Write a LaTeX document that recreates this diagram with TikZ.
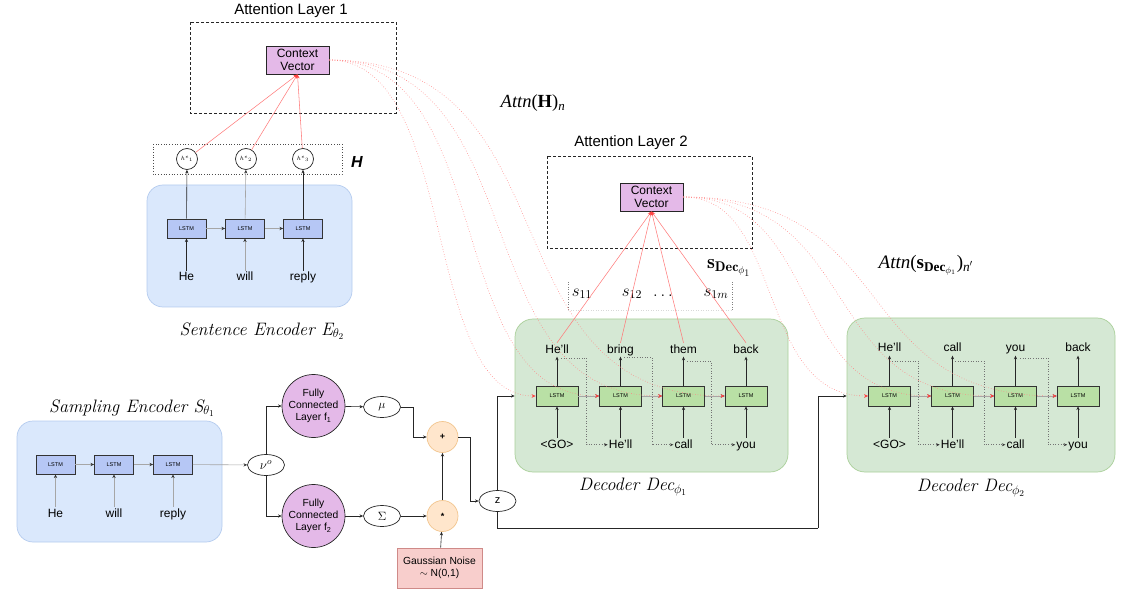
\RequirePackage{fix-cm}
\documentclass[tikz,border=0pt]{standalone}
\usepackage{fontspec}
\setsansfont{Liberation Sans}
\newfontfamily\timesf{Liberation Serif}
\usetikzlibrary{arrows.meta,calc,shapes.geometric}
\definecolor{bluebg}{HTML}{DAE8FC}
\definecolor{blueln}{HTML}{B4CBEE}
\definecolor{lstmb}{HTML}{B6C7F5}
\definecolor{greenbg}{HTML}{D5E8D4}
\definecolor{greenln}{HTML}{A9CF99}
\definecolor{lstmg}{HTML}{B9E0A5}
\definecolor{purp}{HTML}{E4B9E8}
\definecolor{orbg}{HTML}{FFE6CC}
\definecolor{orln}{HTML}{F2C58E}
\definecolor{gnbg}{HTML}{F8CECC}
\definecolor{gnln}{HTML}{CF8A88}
\definecolor{redl}{HTML}{FF4444}
\tikzset{
  blk/.style={draw=black!85,line width=0.6pt,-{Stealth[length=3.6pt,width=3.2pt]}},
  gry/.style={draw=black!35,line width=0.6pt,-{Stealth[length=3.6pt,width=3.2pt,black!80]}},
  plainln/.style={draw=black!85,line width=0.6pt},
  redln/.style={draw=redl!70,line width=0.55pt,-{Stealth[length=4pt,width=3.6pt,redl]}},
  redcv/.style={draw=redl!65,line width=0.6pt,dotted,-{Stealth[length=4pt,width=3.6pt,redl]}},
  fbk/.style={draw=black!55,line width=0.6pt,dotted,-{Stealth[length=3.4pt,width=3pt,black!80]}},
  bluebox/.style={draw=blueln,fill=bluebg,line width=0.7pt,rounded corners=16pt},
  greenbox/.style={draw=greenln,fill=greenbg,line width=0.7pt,rounded corners=18pt},
  lstmB/.style={draw=black!80,line width=0.8pt,fill=lstmb,minimum width=39pt,minimum height=19pt,inner sep=0pt,font=\sffamily\fontsize{5.5}{6}\selectfont},
  lstmG/.style={draw=black!80,line width=0.8pt,fill=lstmg,minimum width=42pt,minimum height=20pt,inner sep=0pt,font=\sffamily\fontsize{5.5}{6}\selectfont},
  word/.style={anchor=base,inner sep=1pt,text height=9pt,text depth=2.5pt,font=\sffamily\fontsize{12}{14}\selectfont},
  ttl/.style={inner sep=0pt,font=\sffamily\fontsize{15}{18}\selectfont},
  ctxbox/.style={draw=black!85,line width=0.9pt,fill=purp,minimum width=63pt,minimum height=28pt,inner sep=0pt,align=center,font=\sffamily\fontsize{12}{13.5}\selectfont},
  hcirc/.style={circle,draw=black!85,line width=0.7pt,fill=white,minimum size=21pt,inner sep=0pt,font=\fontsize{6}{7}\selectfont},
  fccirc/.style={circle,draw=black!85,line width=0.7pt,fill=purp,minimum size=63pt,inner sep=0pt,align=center,font=\sffamily\fontsize{10.3}{12.2}\selectfont},
  ovl/.style={ellipse,draw=black!85,line width=0.7pt,fill=white,minimum width=37pt,minimum height=21pt,inner sep=0pt},
  opcirc/.style={circle,draw=orln,fill=orbg,line width=0.7pt,minimum size=31pt,inner sep=0pt,font=\sffamily\bfseries\fontsize{9}{10}\selectfont},
  capt/.style={inner sep=0pt,font=\fontsize{18}{20}\selectfont\itshape},
  framed/.style={draw=black!85,line width=0.75pt,dash pattern=on 3pt off 2pt},
  mathlab/.style={inner sep=0pt,font=\fontsize{17}{18}\selectfont},
}
\begin{document}
\begin{tikzpicture}[x=1pt,y=-1pt]
\useasboundingbox (0,0) rectangle (1129,593);

% ---------- background boxes ----------
\node[bluebox,minimum width=205pt,minimum height=122pt] (sebox) at (249.5,246) {};
\node[bluebox,minimum width=205pt,minimum height=121pt] (sabox) at (119.5,481.5) {};
\node[greenbox,minimum width=273pt,minimum height=153pt] (dec1) at (651.5,395.5) {};
\node[greenbox,minimum width=268pt,minimum height=154pt] (dec2) at (981,395) {};

% ---------- attention layer 1 ----------
\node[ttl] (at1) at (291,11) {Attention Layer 1};
\draw[framed] (190,22) rectangle (396,113);
\node[ctxbox] (cv1) at (297.5,60) {Context\\Vector};

% ---------- H ----------
\draw[draw=black!70,line width=0.7pt,dotted] (153,144) rectangle (342,174);
\node[hcirc] (h1) at (187,159) {$h^{e}{}_{1}$};
\node[hcirc] (h2) at (246,159) {$h^{e}{}_{2}$};
\node[hcirc] (h3) at (303,159) {$h^{e}{}_{3}$};
\node[inner sep=0pt,font=\sffamily\bfseries\itshape\fontsize{16}{18}\selectfont] (Hlab) at (357,162) {H};

% ---------- sentence encoder ----------
\node[lstmB] (e1) at (186.5,228.5) {LSTM};
\node[lstmB] (e2) at (245,228.5) {LSTM};
\node[lstmB] (e3) at (303,228.5) {LSTM};
\node[word] (w1) at (186.5,281) {He};
\node[word] (w2) at (245,281) {will};
\node[word] (w3) at (303,281) {reply};
\node[capt] (selab) at (262,331) {Sentence Encoder E$_{\theta_2}$};
\draw[blk] (w1) -- (e1);
\draw[gry] (w2) -- (e2);
\draw[blk] (w3) -- (e3);
\draw[gry] (e1) -- (e2);
\draw[gry] (e2) -- (e3);
\draw[blk] (e1) -- (h1);
\draw[gry] (e2) -- (h2);
\draw[blk] (e3) -- (h3);
\draw[redln] (h1) -- (cv1.south);
\draw[redln] (h2) -- (cv1.south);
\draw[redln] (h3) -- (cv1.south);

% ---------- sampling encoder ----------
\node[capt] (salab) at (132,408) {Sampling Encoder S$_{\theta_1}$};
\node[lstmB] (s1) at (55.5,464.5) {LSTM};
\node[lstmB] (s2) at (114,464.5) {LSTM};
\node[lstmB] (s3) at (173,464.5) {LSTM};
\node[word] (v1) at (55.5,517) {He};
\node[word] (v2) at (114,517) {will};
\node[word] (v3) at (173,517) {reply};
\draw[gry] (v1) -- (s1);
\draw[gry] (v2) -- (s2);
\draw[gry] (v3) -- (s3);
\draw[gry] (s1) -- (s2);
\draw[gry] (s2) -- (s3);

% ---------- VAE part ----------
\node[ovl,font=\fontsize{13}{14}\selectfont] (nu) at (266,465) {$\nu^o$};
\node[fccirc] (fc1) at (313.5,406) {Fully\\Connected\\Layer f\textsubscript{1}};
\node[fccirc] (fc2) at (313.5,516) {Fully\\Connected\\Layer f\textsubscript{2}};
\node[ovl,font=\fontsize{12}{13}\selectfont] (mu) at (382,407) {$\mu$};
\node[ovl,font=\fontsize{12}{13}\selectfont] (sig) at (382,516) {$\Sigma$};
\node[opcirc] (plus) at (442.5,437) {+};
\node[opcirc] (star) at (442.5,516) {*};
\node[draw=gnln,fill=gnbg,line width=0.7pt,minimum width=85pt,minimum height=40pt,inner sep=0pt,align=center,font=\sffamily\fontsize{10.3}{12.5}\selectfont] (gn) at (439.5,568) {Gaussian Noise\\$\sim$ N(0,1)};
\node[ovl,font=\sffamily\fontsize{11}{12}\selectfont] (z) at (497.5,501) {z};
\draw[gry] (s3) -- (nu);
\draw[blk] (nu.north) |- (fc1.west);
\draw[blk] (nu.south) |- (fc2.west);
\draw[blk] (fc1) -- (mu);
\draw[blk] (fc2) -- (sig);
\draw[blk] (mu.east) -- ++(12,0) |- (plus.west);
\draw[blk] (sig) -- (star);
\draw[blk] (gn) -- (star);
\draw[blk] (star) -- (plus);
\draw[blk] (plus.east) -- ++(12,0) |- (z.west);

% ---------- decoder 1 ----------
\node[lstmG] (d11) at (557,396) {LSTM};
\node[lstmG] (d12) at (620.5,396) {LSTM};
\node[lstmG] (d13) at (683.5,396) {LSTM};
\node[lstmG] (d14) at (746,396) {LSTM};
\node[word] (t11) at (557,353) {He'll};
\node[word] (t12) at (620.5,353) {bring};
\node[word] (t13) at (683.5,353) {them};
\node[word] (t14) at (746,353) {back};
\node[word] (b11) at (557,448) {<GO>};
\node[word] (b12) at (620.5,448) {He'll};
\node[word] (b13) at (683.5,448) {call};
\node[word] (b14) at (746,448) {you};
\node[capt] (d1lab) at (633,487) {Decoder Dec$_{\phi_1}$};
\foreach \i in {1,2,3,4}{
  \draw[blk] (b1\i) -- (d1\i);
  \draw[blk] (d1\i) -- (t1\i);
}
\draw[gry] (d11) -- (d12);
\draw[gry] (d12) -- (d13);
\draw[gry] (d13) -- (d14);
\coordinate (f11) at (561,358);
\coordinate (f12) at (624,357);
\coordinate (f13) at (687,361);
\draw[fbk] (f11) -| ($(b12.west)+(-21,0)$) -- (b12.west);
\draw[fbk] (f12) -| ($(b13.west)+(-21.5,0)$) -- (b13.west);
\draw[fbk] (f13) -| ($(b14.west)+(-24,0)$) -- (b14.west);

% ---------- decoder 2 ----------
\node[lstmG] (d21) at (889.5,396) {LSTM};
\node[lstmG] (d22) at (952.5,396) {LSTM};
\node[lstmG] (d23) at (1015.5,396) {LSTM};
\node[lstmG] (d24) at (1078,396) {LSTM};
\node[word] (t21) at (889.5,352) {He'll};
\node[word] (t22) at (952.5,352) {call};
\node[word] (t23) at (1015.5,352) {you};
\node[word] (t24) at (1078,352) {back};
\node[word] (b21) at (889.5,448) {<GO>};
\node[word] (b22) at (952.5,448) {He'll};
\node[word] (b23) at (1015.5,448) {call};
\node[word] (b24) at (1078,448) {you};
\node[capt] (d2lab) at (971,488) {Decoder Dec$_{\phi_2}$};
\foreach \i in {1,2,3,4}{
  \draw[blk] (b2\i) -- (d2\i);
  \draw[blk] (d2\i) -- (t2\i);
}
\draw[gry] (d21) -- (d22);
\draw[gry] (d22) -- (d23);
\draw[gry] (d23) -- (d24);
\coordinate (f21) at (892,361);
\coordinate (f22) at (955,361);
\coordinate (f23) at (1020,358);
\draw[fbk] (f21) -| ($(b22.west)+(-21,0)$) -- (b22.west);
\draw[fbk] (f22) -| ($(b23.west)+(-21.5,0)$) -- (b23.west);
\draw[fbk] (f23) -| ($(b24.west)+(-19,0)$) -- (b24.west);

% ---------- z connections ----------
\coordinate (zb) at (497.5,528);
\coordinate (zc) at (818,528);
\draw[blk] (z.north) |- (dec1.west |- d11.west);
\draw[plainln] (z.south) -- (zb) -- (zc);
\draw[blk] (zc) |- (dec2.west |- d21.west);

% ---------- attention layer 2 ----------
\node[ttl] (at2) at (631,143) {Attention Layer 2};
\draw[framed] (547,156) rectangle (752,248);
\node[ctxbox] (cv2) at (651.5,197) {Context\\Vector};
\draw[black!50,dotted,line width=0.5pt] (568,282) -- (568,310);
\draw[black!50,dotted,line width=0.5pt] (732,282) -- (732,310);
\draw[black!15,dotted,line width=0.5pt] (568,310) -- (732,310);
\node[mathlab] (s11) at (582,294) {$s_{11}$};
\node[mathlab] (s12) at (632,294) {$s_{12}$};
\node[mathlab,anchor=base] (sdots) at (663,297) {$\ldots$};
\node[mathlab] (s1m) at (716,294) {$s_{1m}$};
\node[inner sep=0pt,font=\fontsize{20}{22}\selectfont] (sdec) at (729,268) {$\mathbf{s}_{\mathbf{Dec}_{\phi_1}}$};
\foreach \i in {1,2,3,4}{
  \draw[redln] (t1\i.north) -- (cv2.south);
}

% ---------- attention labels ----------
\node[inner sep=0pt,font=\timesf\fontsize{18.5}{20}\selectfont] (attnH) at (533,103) {\textit{Attn}(\textbf{H})\textsubscript{\textit{n}}};
\node[inner sep=0pt,font=\timesf\fontsize{19}{20}\selectfont] (attnS) at (926,265) {\textit{Attn}(\textbf{s}\textsubscript{\textbf{Dec}$_{\phi_1}$})\textsubscript{\textit{n}$'$}};

% ---------- attention curves ----------
\draw[redcv] (cv1.east) .. controls (460,60) and (420,396) .. (d11.west);
\draw[redcv] (cv1.east) .. controls (500,60) and (440,396) .. (d12.west);
\draw[redcv] (cv1.east) .. controls (540,60) and (460,396) .. (d13.west);
\draw[redcv] (cv1.east) .. controls (580,60) and (480,396) .. (d14.west);
\draw[redcv] (cv2.east) .. controls (785,197) and (755,396) .. (d21.west);
\draw[redcv] (cv2.east) .. controls (825,197) and (785,396) .. (d22.west);
\draw[redcv] (cv2.east) .. controls (865,197) and (815,396) .. (d23.west);
\draw[redcv] (cv2.east) .. controls (905,197) and (845,396) .. (d24.west);
\end{tikzpicture}
\end{document}
